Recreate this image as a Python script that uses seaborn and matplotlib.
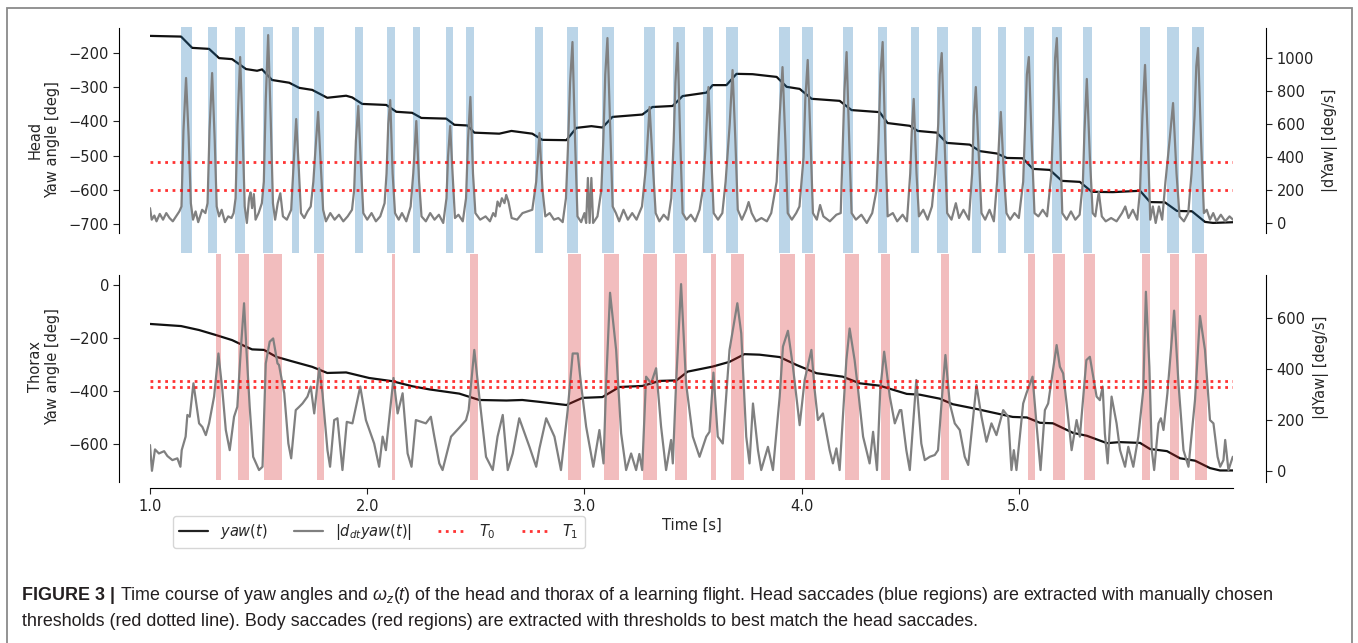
import matplotlib
matplotlib.use("Agg")
import matplotlib.pyplot as plt
import matplotlib.patches as mpatches
from matplotlib.lines import Line2D
import numpy as np
import pandas as pd
import seaborn as sns

# ---------------- data ----------------
HEAD_YAW_PTS = [(1.000,-150),(1.143,-152),(1.194,-185),(1.272,-188),(1.318,-215),(1.378,-218),(1.442,-247),
    (1.493,-252),(1.516,-248),(1.562,-279),(1.641,-287),(1.687,-302),(1.747,-308),(1.816,-331),(1.903,-325),
    (1.931,-330),(1.977,-349),(2.088,-352),(2.134,-372),(2.207,-375),(2.249,-390),(2.364,-392),(2.401,-410),
    (2.461,-412),(2.493,-433),(2.608,-436),(2.664,-428),(2.760,-436),(2.806,-454),(2.917,-455),(2.963,-419),
    (3.032,-414),(3.083,-418),(3.129,-387),(3.267,-380),(3.313,-358),(3.406,-355),(3.452,-326),(3.562,-316),
    (3.590,-294),(3.654,-294),(3.700,-261),(3.774,-262),(3.885,-270),(3.931,-299),(3.991,-305),(4.046,-334),
    (4.175,-340),(4.230,-367),(4.359,-373),(4.396,-405),(4.498,-413),(4.535,-428),(4.622,-433),(4.668,-463),
    (4.774,-468),(4.820,-487),(4.899,-494),(4.945,-507),(5.018,-508),(5.065,-539),(5.143,-542),(5.198,-574),
    (5.281,-577),(5.336,-606),(5.433,-607),(5.558,-603),(5.604,-636),(5.673,-637),(5.728,-662),(5.797,-663),
    (5.857,-694),(5.894,-697),(5.986,-695)]

HEAD_DYAW_PTS = [(1.000,90),(1.008,20),(1.020,45),(1.030,10),(1.045,55),(1.060,20),(1.075,60),(1.090,30),(1.105,10),(1.120,40),(1.135,70),
    (1.145,100),(1.154,560),(1.166,879),(1.178,520),(1.188,120),(1.198,20),(1.210,70),(1.222,5),(1.240,80),(1.255,60),
    (1.265,120),(1.274,560),(1.286,909),(1.298,500),(1.307,100),(1.318,40),(1.330,80),(1.345,5),(1.360,40),(1.375,30),(1.385,60),
    (1.394,150),(1.403,600),(1.415,1006),(1.427,520),(1.436,100),(1.446,0),(1.456,150),(1.463,185),(1.470,90),(1.478,175),(1.486,20),(1.500,60),(1.515,120),
    (1.524,250),(1.533,750),(1.544,1139),(1.556,620),(1.566,120),(1.576,20),(1.588,120),(1.600,180),(1.612,40),(1.630,20),(1.650,80),
    (1.661,350),(1.673,630),(1.685,330),(1.695,60),(1.710,30),(1.725,70),(1.740,100),(1.752,250),
    (1.762,450),(1.774,673),(1.787,330),(1.797,80),(1.810,10),(1.830,60),(1.850,20),(1.870,50),(1.890,10),(1.910,40),(1.930,80),
    (1.940,200),(1.948,500),(1.959,709),(1.971,350),(1.982,60),(2.000,20),(2.020,60),(2.040,10),(2.060,40),(2.080,120),
    (2.089,300),(2.097,600),(2.106,745),(2.117,300),(2.128,60),(2.145,20),(2.160,60),(2.180,10),(2.200,100),
    (2.212,300),(2.226,618),(2.239,250),(2.250,40),(2.270,10),(2.290,60),(2.310,20),(2.330,50),(2.350,0),(2.365,150),
    (2.372,400),(2.382,588),(2.393,300),(2.404,30),(2.420,50),(2.440,10),(2.455,150),
    (2.464,500),(2.475,764),(2.487,300),(2.498,60),(2.520,20),(2.545,40),(2.565,10),(2.580,60),(2.590,40),(2.600,130),(2.610,100),
    (2.620,150),(2.632,120),(2.640,170),(2.650,130),(2.665,30),(2.690,20),(2.715,60),(2.760,80),
    (2.778,250),(2.793,545),(2.807,200),(2.820,40),(2.840,60),(2.860,20),(2.880,30),(2.900,5),(2.915,150),
    (2.924,450),(2.934,850),(2.945,1097),(2.957,500),(2.968,40),(2.985,5),(3.000,60),(3.008,0),(3.016,273),(3.024,0),
    (3.032,273),(3.040,0),(3.060,40),(3.078,200),
    (3.087,500),(3.096,900),(3.106,1121),(3.118,600),(3.130,100),(3.145,60),(3.160,10),(3.180,80),(3.200,20),(3.220,60),(3.240,20),(3.265,100),
    (3.284,350),(3.300,703),(3.315,350),(3.328,60),(3.345,10),(3.365,50),(3.385,20),(3.400,150),
    (3.411,500),(3.419,850),(3.429,1091),(3.441,500),(3.452,60),(3.470,20),(3.490,50),(3.510,10),(3.530,80),(3.545,200),
    (3.557,450),(3.571,824),(3.584,400),(3.595,60),(3.615,20),(3.635,60),(3.650,250),
    (3.669,600),(3.682,927),(3.695,500),(3.706,80),(3.725,20),(3.745,80),(3.756,127),(3.770,60),(3.790,10),(3.815,30),(3.840,10),(3.860,60),(3.885,250),
    (3.899,650),(3.912,945),(3.925,500),(3.936,60),(3.955,20),(3.975,60),(3.990,100),
    (4.009,400),(4.017,750),(4.028,988),(4.041,500),(4.052,60),(4.070,20),(4.085,109),(4.100,40),(4.130,10),(4.160,50),(4.180,60),
    (4.189,450),(4.197,800),(4.207,1036),(4.219,500),(4.230,60),(4.250,20),(4.275,50),(4.300,0),(4.325,60),(4.345,200),
    (4.354,500),(4.363,900),(4.373,1097),(4.385,500),(4.396,40),(4.420,60),(4.440,10),(4.465,50),(4.485,10),(4.500,300),
    (4.507,550),(4.516,752),(4.529,300),(4.540,40),(4.560,80),(4.580,20),(4.600,100),(4.615,300),
    (4.629,600),(4.636,900),(4.645,1030),(4.658,500),(4.670,60),(4.690,20),(4.710,120),(4.725,30),(4.745,80),(4.770,20),(4.785,300),
    (4.793,650),(4.802,824),(4.816,400),(4.828,60),(4.845,20),(4.865,80),(4.885,10),(4.900,250),
    (4.909,500),(4.917,673),(4.931,300),(4.943,60),(4.960,20),(4.980,60),(5.000,30),(5.020,250),
    (5.029,600),(5.037,900),(5.046,1006),(5.059,500),(5.072,60),(5.090,40),(5.110,80),(5.130,40),(5.150,300),
    (5.159,650),(5.167,1000),(5.175,1121),(5.188,600),(5.200,60),(5.220,20),(5.240,70),(5.260,20),(5.280,50),(5.295,250),
    (5.302,550),(5.313,873),(5.327,400),(5.340,60),(5.352,40),(5.368,188),(5.382,40),(5.400,10),(5.425,30),(5.450,10),(5.475,60),
    (5.490,100),(5.505,30),(5.525,80),(5.545,20),(5.558,200),
    (5.569,650),(5.581,958),(5.594,500),(5.605,20),(5.617,100),(5.630,0),(5.645,100),(5.660,20),(5.675,250),
    (5.694,500),(5.710,727),(5.726,300),(5.740,40),(5.760,10),(5.780,60),(5.795,300),
    (5.809,650),(5.817,950),(5.825,1061),(5.839,500),(5.852,60),(5.865,80),(5.880,20),(5.895,60),(5.910,10),(5.930,50),(5.950,10),(5.970,40),(5.986,20)]

THORAX_YAW_PTS = [(1.000,-147),(1.143,-155),(1.226,-170),(1.304,-189),(1.378,-208),(1.442,-233),(1.470,-243),
    (1.525,-245),(1.581,-271),(1.654,-288),(1.747,-309),(1.816,-332),(1.903,-330),(2.009,-351),(2.115,-363),
    (2.207,-382),(2.286,-394),(2.424,-410),(2.516,-434),(2.641,-436),(2.714,-434),(2.793,-441),(2.917,-453),
    (2.991,-426),(3.083,-423),(3.161,-385),(3.267,-381),(3.346,-362),(3.424,-360),(3.475,-327),(3.590,-308),
    (3.668,-290),(3.737,-261),(3.806,-263),(3.899,-272),(3.977,-302),(4.069,-333),(4.189,-346),(4.267,-371),
    (4.359,-380),(4.484,-411),(4.544,-414),(4.636,-429),(4.696,-450),(4.806,-468),(4.866,-479),(4.972,-498),
    (5.037,-500),(5.097,-520),(5.157,-522),(5.249,-558),(5.313,-569),(5.406,-597),(5.465,-593),(5.558,-596),
    (5.604,-619),(5.682,-627),(5.742,-654),(5.811,-663),(5.880,-691),(5.926,-700),(5.986,-700)]

THORAX_DYAW_PTS = [(1.000,102),(1.009,1),(1.023,85),(1.041,69),(1.065,78),(1.080,59),(1.103,43),(1.126,50),(1.140,17),
    (1.146,82),(1.164,135),(1.172,220),(1.183,213),(1.200,344),(1.226,187),(1.241,173),(1.257,141),(1.272,187),
    (1.295,292),(1.315,461),(1.333,318),(1.349,161),(1.367,82),(1.387,213),(1.402,252),(1.418,475),(1.433,658),
    (1.444,475),(1.459,252),(1.475,56),(1.502,4),(1.518,17),(1.533,422),(1.551,507),(1.567,520),(1.587,422),
    (1.594,416),(1.618,305),(1.637,108),(1.650,50),(1.671,239),(1.687,252),(1.702,265),(1.725,292),(1.740,331),
    (1.756,226),(1.779,403),(1.794,305),(1.817,82),(1.829,17),(1.848,200),(1.863,207),(1.886,4),(1.906,193),
    (1.932,187),(1.968,331),(1.994,200),(2.032,108),(2.055,17),(2.071,135),(2.086,82),(2.121,365),(2.140,226),
    (2.163,305),(2.186,69),(2.204,17),(2.224,200),(2.270,187),(2.293,213),(2.309,135),(2.332,30),(2.347,4),
    (2.386,135),(2.424,170),(2.455,200),(2.467,239),(2.493,475),(2.516,292),(2.547,56),(2.578,4),(2.600,135),
    (2.624,220),(2.647,4),(2.670,69),(2.700,207),(2.747,95),(2.778,17),(2.793,89),(2.824,207),(2.862,135),
    (2.892,4),(2.923,239),(2.946,461),(2.969,461),(2.984,344),(3.008,174),(3.041,17),(3.069,161),(3.088,30),
    (3.100,344),(3.118,699),(3.146,475),(3.169,148),(3.192,4),(3.215,69),(3.238,4),(3.253,67),(3.266,4),
    (3.284,370),(3.307,344),(3.330,403),(3.353,174),(3.376,4),(3.399,122),(3.407,30),(3.422,344),(3.445,733),
    (3.468,344),(3.499,135),(3.530,56),(3.561,135),(3.576,154),(3.594,386),(3.614,135),(3.637,108),(3.668,475),
    (3.704,658),(3.722,540),(3.745,135),(3.760,30),(3.776,265),(3.799,82),(3.814,4),(3.845,95),(3.868,4),
    (3.899,292),(3.914,488),(3.937,550),(3.960,409),(3.991,180),(4.014,357),(4.045,475),(4.060,318),(4.075,200),
    (4.098,226),(4.129,82),(4.144,30),(4.160,89),(4.175,4),(4.206,435),(4.221,559),(4.244,435),(4.260,318),
    (4.283,135),(4.313,30),(4.329,154),(4.347,4),(4.362,318),(4.380,468),(4.406,292),(4.429,187),(4.452,239),
    (4.459,239),(4.482,82),(4.498,4),(4.528,357),(4.551,108),(4.567,43),(4.590,56),(4.613,63),(4.628,82),
    (4.651,344),(4.662,455),(4.682,265),(4.705,187),(4.728,161),(4.751,56),(4.767,24),(4.790,213),(4.805,337),
    (4.828,213),(4.851,115),(4.874,187),(4.897,141),(4.928,239),(4.951,213),(4.966,4),(4.977,82),(4.989,4),
    (5.020,265),(5.035,305),(5.063,370),(5.081,187),(5.100,4),(5.120,239),(5.135,265),(5.174,494),(5.189,409),
    (5.204,383),(5.220,265),(5.243,82),(5.266,200),(5.281,135),(5.311,435),(5.327,448),(5.358,292),(5.373,278),
    (5.386,331),(5.396,148),(5.409,30),(5.427,292),(5.450,187),(5.466,82),(5.489,17),(5.504,95),(5.527,17),
    (5.550,135),(5.573,318),(5.585,703),(5.601,409),(5.612,82),(5.623,4),(5.643,187),(5.654,207),(5.666,161),
    (5.684,305),(5.715,629),(5.735,344),(5.758,82),(5.781,17),(5.811,278),(5.834,608),(5.857,475),(5.880,200),
    (5.896,187),(5.915,56),(5.927,17),(5.942,43),(5.950,122),(5.965,4),(5.985,56)]

HEAD_SACCADE_START = [1.143,1.267,1.392,1.521,1.654,1.756,1.945,2.092,2.212,2.364,2.456,2.774,2.922,3.083,3.276,
    3.406,3.548,3.654,3.894,4.000,4.189,4.350,4.502,4.622,4.783,4.903,5.023,5.152,5.295,5.558,5.682,5.797]
HEAD_SACCADE_END = [1.194,1.309,1.438,1.567,1.687,1.802,1.982,2.129,2.244,2.396,2.493,2.811,2.972,3.134,3.323,
    3.465,3.590,3.705,3.945,4.051,4.235,4.392,4.539,4.673,4.825,4.940,5.069,5.198,5.336,5.604,5.737,5.853]
BODY_SACCADE_START = [1.304,1.406,1.525,1.770,2.115,2.475,2.926,3.092,3.272,3.419,3.585,3.677,3.899,4.014,4.198,
    4.364,4.641,5.041,5.157,5.300,5.567,5.696,5.811]
BODY_SACCADE_END = [1.327,1.456,1.608,1.802,2.129,2.512,2.986,3.157,3.336,3.470,3.604,3.733,3.968,4.060,4.263,
    4.406,4.677,5.074,5.212,5.350,5.604,5.737,5.866]

HEAD_THRESHOLDS = [370, 200]     # T0, T1 in deg/s
THORAX_THRESHOLDS = [355, 330]   # T0, T1 in deg/s

XTICKS = [1.0, 2.0, 3.0, 4.0, 5.0]
XTICK_LABELS = ["1.0", "2.0", "3.0", "4.0", "5.0"]
HEAD_YTICKS = [-200, -300, -400, -500, -600, -700]
HEAD_RTICKS = [0, 200, 400, 600, 800, 1000]
THORAX_YTICKS = [0, -200, -400, -600]
THORAX_RTICKS = [0, 200, 400, 600]

CAPTION_BOLD = "FIGURE 3 | "
CAPTION_1 = ("Time course of yaw angles and $\\omega_z(t)$ of the head and thorax of a learning flight. "
             "Head saccades (blue regions) are extracted with manually chosen")
CAPTION_2 = ("thresholds (red dotted line). Body saccades (red regions) are extracted with thresholds "
             "to best match the head saccades.")

# ---------------- style ----------------
sns.set_style("ticks")
plt.rcParams["font.family"] = ["DejaVu Sans"]
FS = 10.5
plt.rcParams["font.size"] = FS
plt.rcParams["mathtext.rm"] = "Liberation Sans"
plt.rcParams["mathtext.it"] = "Liberation Sans:italic"
plt.rcParams["axes.edgecolor"] = "black"
plt.rcParams["xtick.color"] = "#222222"
plt.rcParams["ytick.color"] = "#222222"

W, H = 1358, 643
fig = plt.figure(figsize=(W / 100, H / 100), dpi=100)

def fx(px):
    return px / W

def fy(py):
    return 1 - py / H

AX_L, AX_R = 150, 1233
xlim = (1.0, 5.986)

def make_panel(top_px, bot_px, yaw_pts, dyaw_pts, starts, ends, span_color, thresholds,
               ylim, rlim, ybounds, rbounds, yticks, rticks, ylabel, show_x):
    ax = fig.add_axes([fx(AX_L), fy(bot_px), fx(AX_R - AX_L), (bot_px - top_px) / H])
    ax2 = ax.twinx()
    yaw = pd.DataFrame(yaw_pts, columns=["t", "yaw"])
    dyaw = pd.DataFrame(dyaw_pts, columns=["t", "dyaw"])
    sns.lineplot(data=yaw, x="t", y="yaw", ax=ax, color="#111111", linewidth=1.6,
                 estimator=None, sort=False, zorder=3)
    for s, e in zip(starts, ends):
        ax2.axvspan(s, e, color=span_color, alpha=0.3, linewidth=0, zorder=1)
    sns.lineplot(data=dyaw, x="t", y="dyaw", ax=ax2, color="gray", linewidth=1.6,
                 estimator=None, sort=False, zorder=3)
    for th in thresholds:
        ax2.axhline(th, color="red", linestyle=":", linewidth=2.0, alpha=0.8, zorder=4)
    ax.set_xlim(*xlim)
    ax.set_ylim(*ylim)
    ax2.set_ylim(*rlim)
    ax.set_yticks(yticks)
    ax2.set_yticks(rticks)
    ax.set_ylabel(ylabel, fontsize=FS, labelpad=6)
    ax2.set_ylabel("|dYaw| [deg/s]", fontsize=FS, labelpad=6)
    for a in (ax, ax2):
        a.spines["top"].set_visible(False)
    ax.spines["right"].set_visible(False)
    ax2.spines["left"].set_visible(False)
    ax2.spines["bottom"].set_visible(False)
    ax.spines["left"].set_position(("outward", 22))
    ax2.spines["right"].set_position(("outward", 24))
    ax.spines["left"].set_bounds(*ybounds)
    ax2.spines["right"].set_bounds(*rbounds)
    ax.tick_params(axis="y", labelsize=FS, length=4)
    ax2.tick_params(axis="y", labelsize=FS, length=4)
    ax2.tick_params(axis="x", bottom=False, labelbottom=False, top=False, labeltop=False)
    if show_x:
        ax.spines["bottom"].set_position(("outward", 6))
        ax.set_xticks(XTICKS)
        ax.set_xticklabels(XTICK_LABELS)
        ax.tick_params(axis="x", labelsize=FS, length=4)
        ax.set_xlabel("Time [s]", fontsize=FS, labelpad=3)
    else:
        ax.spines["bottom"].set_visible(False)
        ax.tick_params(axis="x", bottom=False, labelbottom=False)
        ax.set_xlabel("")
    ax2.set_xlabel("")
    return ax, ax2

ax_h, ax_h2 = make_panel(27, 253, HEAD_YAW_PTS, HEAD_DYAW_PTS, HEAD_SACCADE_START, HEAD_SACCADE_END,
                         "#1f77b4", HEAD_THRESHOLDS,
                         ylim=(-785, -124), rlim=(-182, 1188), ybounds=(-726, -127), rbounds=(-61, 1182),
                         yticks=HEAD_YTICKS, rticks=HEAD_RTICKS, ylabel="Head\nYaw angle [deg]", show_x=False)
ax_t, ax_t2 = make_panel(254, 480, THORAX_YAW_PTS, THORAX_DYAW_PTS, BODY_SACCADE_START, BODY_SACCADE_END,
                         "#d62728", THORAX_THRESHOLDS,
                         ylim=(-736, 117), rlim=(-35, 851), ybounds=(-743, 38), rbounds=(-43, 769),
                         yticks=THORAX_YTICKS, rticks=THORAX_RTICKS, ylabel="Thorax\nYaw angle [deg]", show_x=True)

handles = [Line2D([], [], color="#222222", lw=1.6),
           Line2D([], [], color="gray", lw=1.6),
           Line2D([], [], color="red", lw=2.0, ls=":", alpha=0.8),
           Line2D([], [], color="red", lw=2.0, ls=":", alpha=0.8)]
labels = ["$yaw(t)$", "$|d_{dt}yaw(t)|$", "$T_0$", "$T_1$"]
leg = fig.legend(handles, labels, loc="upper left", bbox_to_anchor=(fx(173), fy(516)), ncol=4,
                 fontsize=FS, frameon=True, borderaxespad=0, columnspacing=1.8)
for t in leg.get_texts():
    t.set_math_fontfamily("dejavusans")

# frame around figure + caption
frame = mpatches.Rectangle((fx(7), -0.05), fx(1352 - 7), fy(8) + 0.05, transform=fig.transFigure,
                           fill=False, edgecolor="#8a8a8a", linewidth=1.3)
fig.add_artist(frame)

cap_font = dict(family=["Liberation Sans", "DejaVu Sans"], fontsize=12.9, color="#231f20")
t_bold = fig.text(fx(22), fy(596), CAPTION_BOLD, fontweight="bold", va="center", ha="left", **cap_font)
fig.add_artist(matplotlib.text.Annotation(CAPTION_1, xy=(1, 0.5), xycoords=t_bold, va="center", ha="left",
                                          math_fontfamily="custom", **cap_font))
fig.text(fx(22), fy(622), CAPTION_2, va="center", ha="left", **cap_font)

fig.savefig("out.png", dpi=100)
